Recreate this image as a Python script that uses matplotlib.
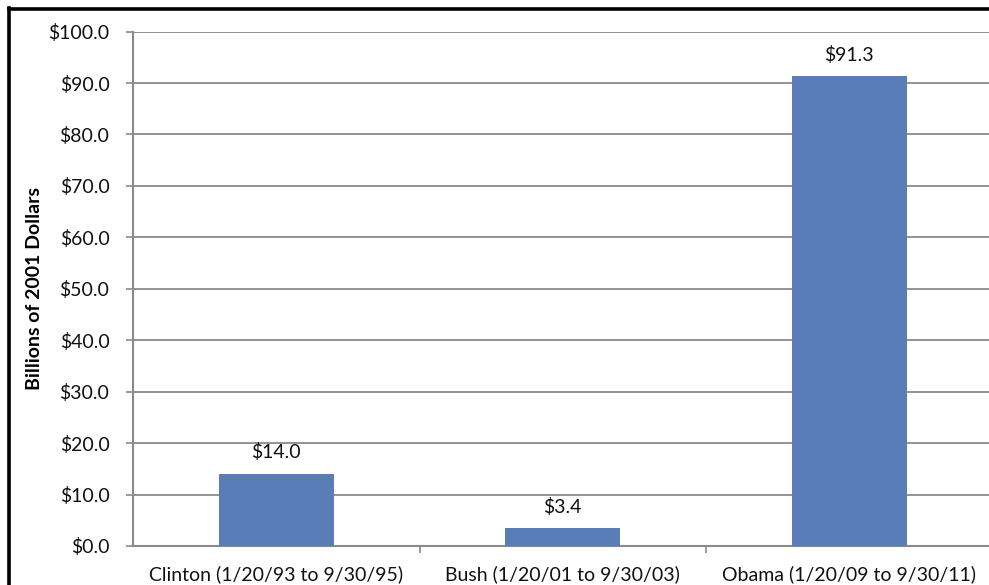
import matplotlib
matplotlib.use("Agg")
import matplotlib.pyplot as plt
from matplotlib.lines import Line2D
from matplotlib.ticker import FuncFormatter, FixedLocator

categories = ["Clinton (1/20/93 to 9/30/95)",
              "Bush (1/20/01 to 9/30/03)",
              "Obama (1/20/09 to 9/30/11)"]
values = [14.0, 3.4, 91.3]
y_ticks = [0, 10, 20, 30, 40, 50, 60, 70, 80, 90, 100]
y_label = "Billions of 2001 Dollars"

plt.rcParams['font.family'] = ['Lato', 'DejaVu Sans']

fig = plt.figure(figsize=(9.89, 5.85), dpi=100)
ax = fig.add_axes([0.1345, 0.0667, 0.869, 0.8793])

grid_col = "#8a8a8a"
bar_col = "#5A7DB8"

x = list(range(len(categories)))
bars = ax.bar(x, values, width=0.4, color=bar_col, zorder=3)

ax.set_xlim(-0.5, 2.5)
ax.set_ylim(0, 100)
ax.set_yticks(y_ticks)
ax.yaxis.set_major_formatter(FuncFormatter(lambda v, p: f"${v:.1f}"))
ax.grid(axis="y", color=grid_col, linewidth=1.3, zorder=0)

ax.set_xticks(x)
ax.set_xticklabels(categories)
ax.xaxis.set_minor_locator(FixedLocator([0.5, 1.5]))
ax.tick_params(axis="x", which="major", length=0, pad=14, labelsize=14, colors="#111111")
ax.tick_params(axis="x", which="minor", length=5, width=1.2, color=grid_col)
ax.tick_params(axis="y", length=5, width=1.2, color=grid_col, labelsize=14,
               labelcolor="#111111", pad=12)

for s in ["top", "right"]:
    ax.spines[s].set_visible(False)
for s in ["left", "bottom"]:
    ax.spines[s].set_color(grid_col)
    ax.spines[s].set_linewidth(1.5)

ax.set_ylabel(y_label, fontsize=14, fontweight="bold", labelpad=4)

for b, v in zip(bars, values):
    ax.annotate(f"${v:.1f}", (b.get_x() + b.get_width() / 2, v),
                xytext=(0, 9), textcoords="offset points",
                ha="center", va="bottom", fontsize=14, color="#111111")

# outer black frame
fig.add_artist(Line2D([8.5 / 989, 8.5 / 989], [0, 1 - 8 / 585], transform=fig.transFigure,
                      color="black", linewidth=2.6))
fig.add_artist(Line2D([8.5 / 989, 1], [1 - 9 / 585, 1 - 9 / 585], transform=fig.transFigure,
                      color="black", linewidth=2.6))

fig.savefig("out.png", dpi=100)
